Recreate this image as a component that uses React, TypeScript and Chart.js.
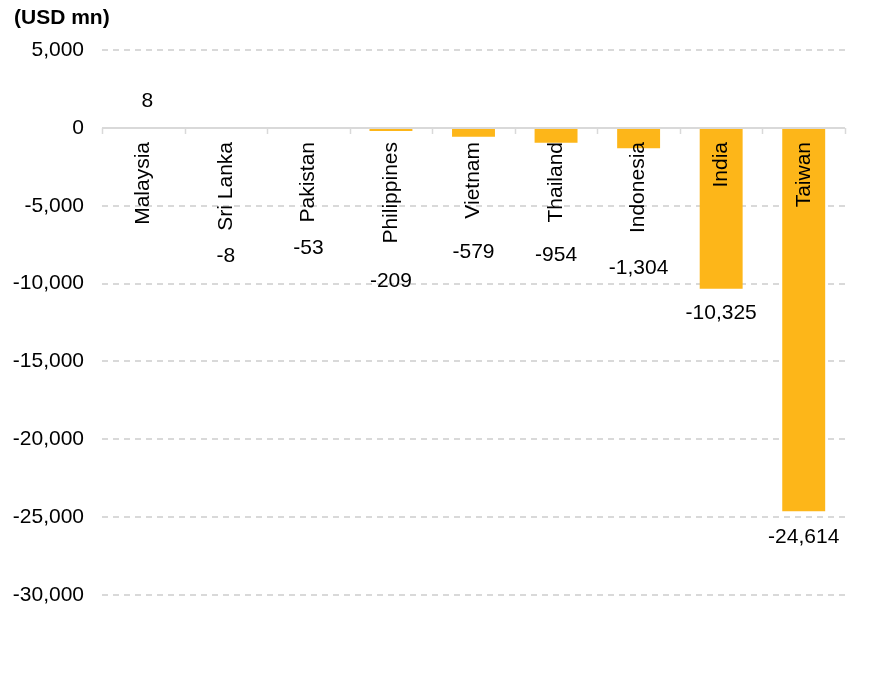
import React, { useEffect, useRef } from "react";
import { Chart, registerables } from "chart.js";

Chart.register(...registerables);

const categories = ["Malaysia", "Sri Lanka", "Pakistan", "Philippines", "Vietnam", "Thailand", "Indonesia", "India", "Taiwan"];
const values = [8, -8, -53, -209, -579, -954, -1304, -10325, -24614];
const yTicks = [5000, 0, -5000, -10000, -15000, -20000, -25000, -30000];
const unitTitle = "(USD mn)";

// style-only nudges for the hand-placed value labels (px)
const labelNudge = [0, 0, 1, 13, 9, 8, 10, 0, 1];

const FONT = "'Liberation Sans', Arial, sans-serif";
const BAR = "#FDB619";
const GRID = "#d9d9d9";

const fmt = (v: number) => v.toLocaleString("en-US");

const customPlugin = {
  id: "custom",
  beforeDatasetsDraw(chart: any) {
    const { ctx, chartArea, scales } = chart;
    const y = scales.y;
    ctx.save();
    ctx.lineWidth = 2;
    ctx.strokeStyle = GRID;
    for (const t of yTicks) {
      if (t === 0) continue;
      const py = Math.round(y.getPixelForValue(t));
      ctx.setLineDash([6, 5]);
      ctx.beginPath();
      ctx.moveTo(chartArea.left, py);
      ctx.lineTo(chartArea.right, py);
      ctx.stroke();
    }
    ctx.restore();
  },
  afterDatasetsDraw(chart: any) {
    const { ctx, chartArea, scales } = chart;
    const y = scales.y;
    const x = scales.x;
    const zero = Math.round(y.getPixelForValue(0));
    ctx.save();
    ctx.lineWidth = 2;
    ctx.strokeStyle = GRID;
    ctx.setLineDash([]);
    ctx.beginPath();
    ctx.moveTo(chartArea.left, zero);
    ctx.lineTo(chartArea.right, zero);
    ctx.stroke();
    const n = categories.length;
    const w = (chartArea.right - chartArea.left) / n;
    ctx.lineWidth = 1.5;
    for (let i = 0; i <= n; i++) {
      const px = Math.round(chartArea.left + i * w) + 0.5;
      ctx.beginPath();
      ctx.moveTo(px, zero);
      ctx.lineTo(px, zero + 6);
      ctx.stroke();
    }
    ctx.fillStyle = "#000";
    ctx.font = `21px ${FONT}`;
    const meta = chart.getDatasetMeta(0);
    meta.data.forEach((bar: any, i: number) => {
      const cx = x.getPixelForValue(i);
      const textTop = zero + 14;
      ctx.save();
      ctx.translate(cx, textTop);
      ctx.rotate(-Math.PI / 2);
      ctx.textAlign = "right";
      ctx.textBaseline = "middle";
      ctx.fillText(categories[i], 0, 0);
      ctx.restore();
      const textEnd = textTop + ctx.measureText(categories[i]).width;
      const v = values[i];
      ctx.textAlign = "center";
      ctx.textBaseline = "middle";
      let ly: number;
      let lx = cx;
      if (v >= 0) {
        ly = bar.y - 27;
        lx = cx + 4;
      } else {
        ly = Math.max(bar.y, textEnd) + 25 + labelNudge[i];
      }
      ctx.fillText(fmt(v), lx, ly);
    });
    ctx.font = `bold 21px ${FONT}`;
    ctx.textAlign = "left";
    ctx.textBaseline = "middle";
    ctx.fillText(unitTitle, 14, 18);
    ctx.restore();
  },
};

export default function App() {
  const ref = useRef<HTMLCanvasElement>(null);
  useEffect(() => {
    if (!ref.current) return;
    const chart = new Chart(ref.current, {
      type: "bar",
      data: {
        labels: categories,
        datasets: [
          {
            data: values,
            backgroundColor: BAR,
            borderWidth: 0,
            barPercentage: 0.52,
            categoryPercentage: 1,
          },
        ],
      },
      options: {
        animation: false,
        responsive: true,
        maintainAspectRatio: false,
        layout: { padding: { top: 50, right: 34, bottom: 87, left: 0 } },
        plugins: { legend: { display: false }, tooltip: { enabled: false }, title: { display: false } },
        scales: {
          x: { display: false, offset: true },
          y: {
            min: -30000,
            max: 5000,
            afterFit: (s: any) => {
              s.width = 102;
            },
            afterBuildTicks: (s: any) => {
              s.ticks = yTicks.map((v) => ({ value: v }));
            },
            grid: { display: false },
            border: { display: false },
            ticks: {
              padding: 10,
              color: "#000",
              font: { family: FONT, size: 21 },
              callback: (v: any) => fmt(Number(v)),
            },
          },
        },
      },
      plugins: [customPlugin],
    });
    return () => chart.destroy();
  }, []);
  return (
    <div style={{ position: "absolute", left: 0, top: 0, width: 879, height: 682 }}>
      <canvas ref={ref} />
    </div>
  );
}
